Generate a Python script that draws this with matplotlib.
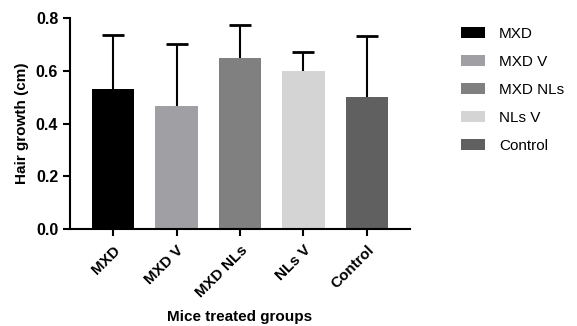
import matplotlib
matplotlib.use("Agg")
import matplotlib.pyplot as plt
from matplotlib.patches import Patch

groups = ["MXD", "MXD V", "MXD NLs", "NLs V", "Control"]
means = [0.53, 0.465, 0.65, 0.60, 0.50]
err_top = [0.735, 0.70, 0.775, 0.67, 0.73]
colors = ["#000000", "#a0a0a4", "#808080", "#d4d4d4", "#606060"]
yticks = [0.0, 0.2, 0.4, 0.6, 0.8]

plt.rcParams['font.family'] = ['Liberation Sans', 'DejaVu Sans']

fig = plt.figure(figsize=(5.77, 3.26), dpi=100)
ax = fig.add_axes([0.1213, 0.2975, 0.5893, 0.6473])

x = list(range(len(groups)))
errs = [t - m for t, m in zip(err_top, means)]
ax.bar(x, means, width=0.67, color=colors, zorder=2)
_, caps, _ = ax.errorbar(x, means, yerr=[[0]*len(x), errs], fmt='none', ecolor='black',
                         elinewidth=1.5, capsize=8, capthick=2, zorder=3)
caps[0].set_visible(False)

ax.set_xlim(-0.68, 4.68)
ax.set_ylim(0, 0.8)
ax.set_yticks(yticks)
ax.set_yticklabels([f"{v:.1f}" for v in yticks], fontsize=11.5, fontweight='bold')
ax.set_xticks(x)
ax.set_xticklabels(groups, rotation=45, ha='right', rotation_mode='anchor',
                   fontsize=11, fontweight='bold')
for s in ['top', 'right']:
    ax.spines[s].set_visible(False)
for s in ['left', 'bottom']:
    ax.spines[s].set_linewidth(1.5)
ax.tick_params(axis='both', width=1.5, length=5, direction='out')
ax.tick_params(axis='x', pad=5)
ax.set_ylabel("Hair growth (cm)", fontsize=11, fontweight='bold', labelpad=5)
ax.set_xlabel("Mice treated groups", fontsize=11, fontweight='bold', labelpad=7)

handles = [Patch(facecolor=c, label=g) for g, c in zip(groups, colors)]
fig.legend(handles=handles, loc='upper left', bbox_to_anchor=(0.775, 0.96),
           frameon=False, fontsize=11, handlelength=1.6, handleheight=0.7,
           labelspacing=0.92, handletextpad=0.9)

fig.savefig("out.png", dpi=100)
